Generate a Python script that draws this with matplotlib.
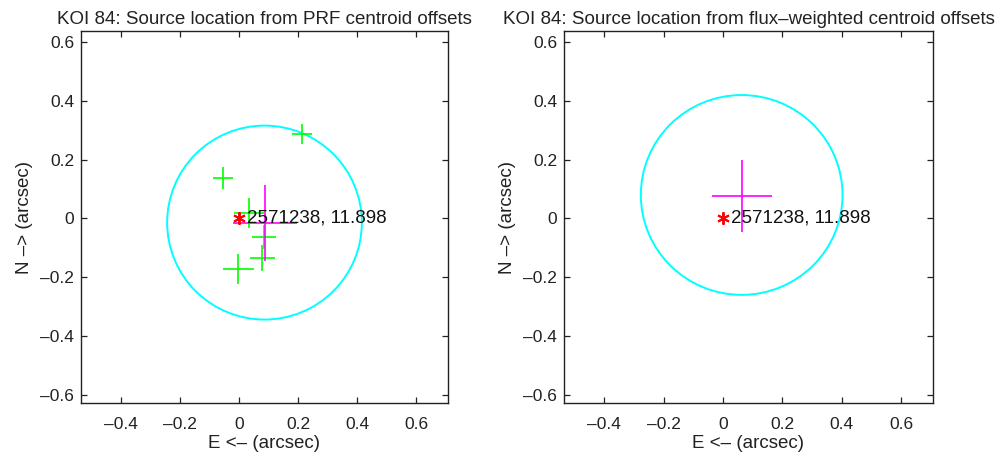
import matplotlib
matplotlib.use('Agg')
import matplotlib.pyplot as plt
from matplotlib.patches import Circle

plt.rcParams['font.family'] = ['Liberation Sans', 'DejaVu Sans']

koi_name = 'KOI 84'
target_label = '2571238, 11.898'

# per-quarter PRF centroid offsets (arcsec) and their 1-sigma errors
prf_x = [0.214, -0.054, 0.034, 0.085, 0.078, -0.003]
prf_y = [0.287, 0.138, 0.018, -0.063, -0.134, -0.172]
prf_ex = [0.034, 0.033, 0.050, 0.040, 0.042, 0.052]
prf_ey = [0.034, 0.037, 0.050, 0.040, 0.044, 0.050]

# mean PRF source location, its error and the 3-sigma circle
prf_mean = [0.088, -0.015]
prf_mean_err = [0.108, 0.130]
prf_circle = [0.086, -0.014, 0.33]

# flux-weighted source location, error and circle
fw_mean = [0.064, 0.077]
fw_mean_err = [0.100, 0.122]
fw_circle = [0.063, 0.080, 0.34]

ticks_x = [-0.4, -0.2, 0, 0.2, 0.4, 0.6]
ticks_y = [-0.6, -0.4, -0.2, 0, 0.2, 0.4, 0.6]
xlim = (-0.536, 0.708)
ylim = (-0.628, 0.638)


def fmt_tick(t):
	# MATLAB style: plain 0, long dash for minus
	return '0' if t == 0 else ('%g' % t).replace('-', '\u2013')


def setup_axes(ax, title):
	'''
	Common MATLAB-like axis dressing: box, inward ticks on all sides, labels
	'''
	ax.set_xlim(*xlim)
	ax.set_ylim(*ylim)
	ax.set_xticks(ticks_x)
	ax.set_yticks(ticks_y)
	ax.set_xticklabels([fmt_tick(t) for t in ticks_x])
	ax.set_yticklabels([fmt_tick(t) for t in ticks_y])
	ax.tick_params(direction='in', top=True, right=True, length=4, width=0.9,
				   labelsize=12.5, colors='#222222', pad=5)
	ax.tick_params(axis='x', pad=10)
	for s in ax.spines.values():
		s.set_linewidth(1.0)
		s.set_color('#222222')
	ax.set_xlabel('E <\u2013 (arcsec)', fontsize=13.5, color='#222222', labelpad=2)
	ax.set_ylabel('N \u2013> (arcsec)', fontsize=13.5, color='#222222', labelpad=5)
	ax.set_title(title, fontsize=13.5, color='#222222', pad=5)


def draw_target(ax):
	ax.plot([0], [0], linestyle='none', marker=(6, 2, 0), color='red',
			markersize=9, markeredgewidth=1.4)
	ax.annotate(target_label, xy=(0, 0), xytext=(6, 0), textcoords='offset points',
				ha='left', va='center', fontsize=13.5, color='#111111')


def draw_circle(ax, circ):
	ax.add_patch(Circle((circ[0], circ[1]), circ[2], fill=False,
						edgecolor='#00ffff', linewidth=1.4))


fig = plt.figure(figsize=(10.04, 4.57), dpi=100)
ax1 = fig.add_axes([81 / 1004, 54 / 457, 367 / 1004, 372 / 457])
ax2 = fig.add_axes([564 / 1004, 54 / 457, 369 / 1004, 372 / 457])

# left: PRF centroid offsets
ax1.errorbar(prf_x, prf_y, xerr=prf_ex, yerr=prf_ey, fmt='none',
			 ecolor='#00ff00', elinewidth=1.2, capsize=0)
draw_circle(ax1, prf_circle)
ax1.errorbar([prf_mean[0]], [prf_mean[1]], xerr=[prf_mean_err[0]], yerr=[prf_mean_err[1]],
			 fmt='none', ecolor='#ff00ff', elinewidth=1.2, capsize=0)
draw_target(ax1)
setup_axes(ax1, '%s: Source location from PRF centroid offsets' % koi_name)

# right: flux-weighted centroid offsets
draw_circle(ax2, fw_circle)
ax2.errorbar([fw_mean[0]], [fw_mean[1]], xerr=[fw_mean_err[0]], yerr=[fw_mean_err[1]],
			 fmt='none', ecolor='#ff00ff', elinewidth=1.2, capsize=0)
draw_target(ax2)
setup_axes(ax2, '%s: Source location from flux\u2013weighted centroid offsets' % koi_name)

fig.savefig('out.png', dpi=100)
plt.close(fig)
